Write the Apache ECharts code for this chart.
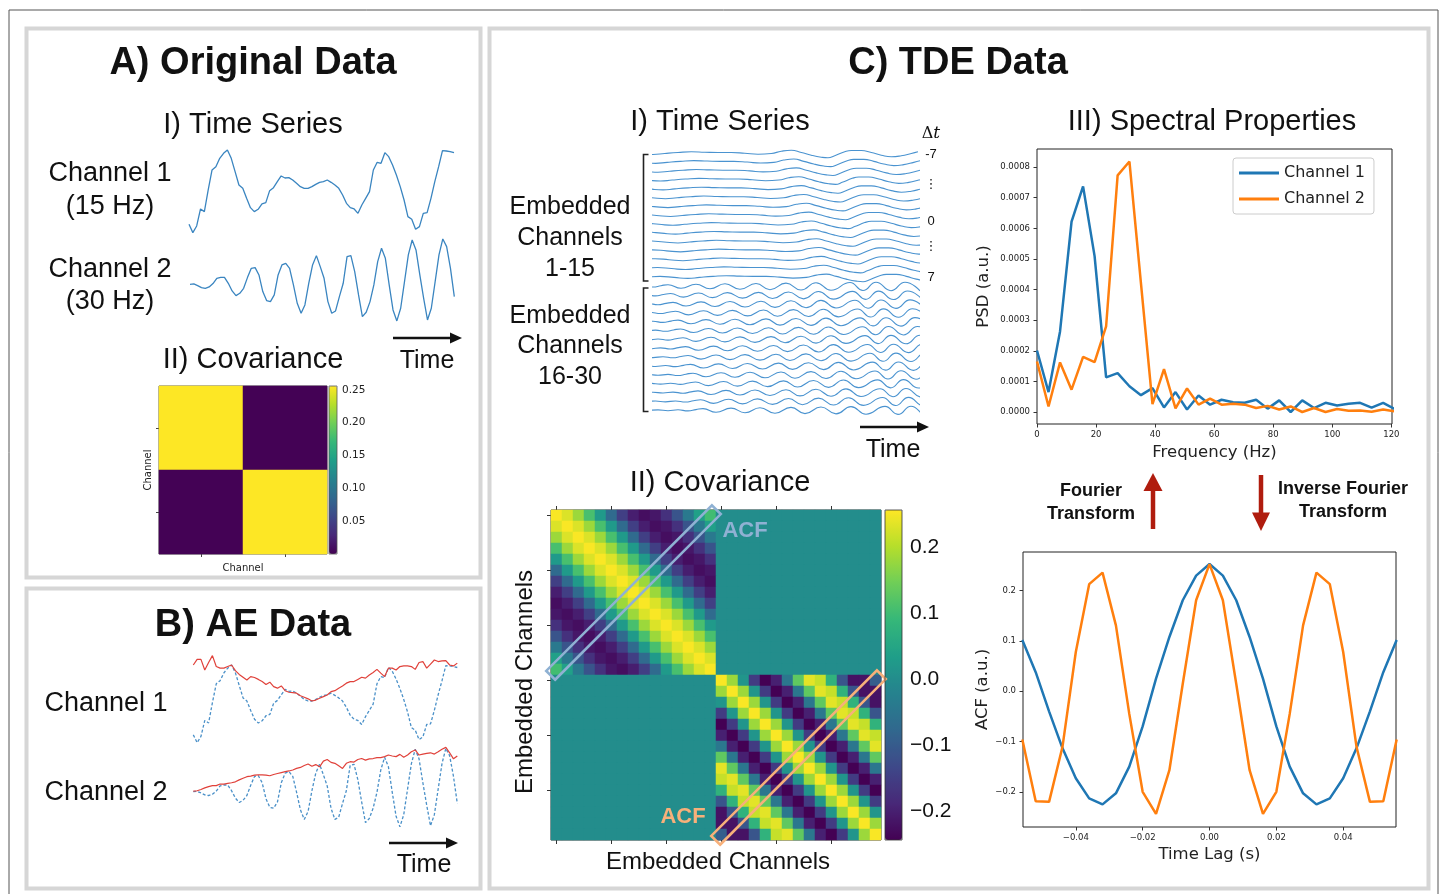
<!DOCTYPE html>
<html>
<head>
<meta charset="utf-8">
<script src="https://cdn.jsdelivr.net/npm/echarts@6/dist/echarts.min.js"></script>
<style>
  html, body { margin: 0; padding: 0; background: #fff; }
  #chart { width: 1447px; height: 894px; }
</style>
</head>
<body>
<div id="chart"></div>
<script>
const SANS = '"Liberation Sans", Arial, Helvetica, sans-serif';
const MPL = '"DejaVu Sans", sans-serif';
const BLUE = '#1f77b4', ORANGE = '#ff7f0e', RED_ARROW = '#b01c0e';
const VIRIDIS = ['#440154', '#482878', '#3e4989', '#31688e', '#26828e', '#1f9e89', '#35b779', '#6ece58', '#b5de2b', '#fde725'];

// A) original time series (70 samples, arbitrary units)
const ch1Signal = [0.27, 0.02, 0.22, 0.73, 0.65, 1.30, 1.90, 2.00, 2.25, 2.40,
  2.50, 2.25, 1.85, 1.45, 1.35, 1.05, 0.77, 0.65, 0.72, 0.88,
  0.92, 1.28, 1.37, 1.55, 1.72, 1.66, 1.67, 1.60, 1.50, 1.40,
  1.35, 1.35, 1.40, 1.47, 1.53, 1.55, 1.60, 1.53, 1.45, 1.35,
  1.15, 0.90, 0.77, 0.73, 0.60, 0.85, 1.05, 1.25, 1.90, 2.13,
  2.10, 2.42, 2.30, 2.05, 1.75, 1.40, 1.00, 0.50, 0.42, 0.12,
  0.20, 0.60, 0.62, 1.05, 1.55, 2.00, 2.48, 2.47, 2.45, 2.42];
const ch2Signal = [0.22, 0.23, 0.18, 0.12, 0.10, 0.14, 0.24, 0.40, 0.43, 0.43,
  0.25, 0.02, -0.12, -0.05, 0.10, 0.42, 0.70, 0.72, 0.50, 0.00,
  -0.27, -0.30, -0.10, 0.50, 0.80, 0.85, 0.70, 0.20, -0.35, -0.65,
  -0.40, 0.25, 0.80, 1.08, 0.75, 0.40, -0.30, -0.65, -0.58, -0.15,
  0.25, 1.05, 1.08, 0.60, -0.10, -0.75, -0.62, -0.30, 0.20, 0.90,
  1.30, 1.00, 0.20, -0.55, -0.88, -0.50, 0.30, 1.10, 1.55, 1.25,
  0.50, -0.20, -0.85, -0.50, 0.30, 1.10, 1.58, 1.35, 0.70, -0.15];

// B) amplitude envelopes
const ch1Envelope = [2.50, 2.68, 2.68, 2.34, 2.58, 2.80, 2.45, 2.40, 2.40, 2.45,
  2.50, 2.32, 2.20, 2.11, 2.02, 2.13, 2.10, 2.04, 1.97, 1.88,
  1.95, 1.81, 1.76, 1.83, 1.68, 1.63, 1.62, 1.60, 1.52, 1.47,
  1.42, 1.35, 1.38, 1.44, 1.49, 1.54, 1.65, 1.68, 1.76, 1.83,
  1.92, 1.97, 1.97, 2.04, 2.11, 2.08, 2.18, 2.26, 2.36, 2.24,
  2.13, 2.40, 2.40, 2.34, 2.45, 2.47, 2.47, 2.45, 2.36, 2.58,
  2.61, 2.40, 2.53, 2.66, 2.61, 2.63, 2.64, 2.50, 2.47, 2.56];
const ch2Envelope = [0.24, 0.25, 0.29, 0.34, 0.38, 0.41, 0.41, 0.46, 0.46, 0.48,
  0.50, 0.53, 0.59, 0.64, 0.69, 0.71, 0.74, 0.75, 0.75, 0.74,
  0.72, 0.76, 0.79, 0.82, 0.85, 0.87, 0.90, 0.95, 0.98, 1.04,
  1.09, 1.02, 1.07, 1.00, 1.18, 1.23, 1.14, 1.11, 1.03, 0.95,
  1.11, 1.16, 1.15, 1.23, 1.26, 1.21, 1.25, 1.26, 1.29, 1.29,
  1.32, 1.37, 1.34, 1.32, 1.39, 1.30, 1.37, 1.47, 1.53, 1.37,
  1.40, 1.42, 1.44, 1.40, 1.47, 1.55, 1.61, 1.44, 1.25, 1.34];

// C-I) traces used for the time-delay embedded rows: [time, amplitude]
const tdeTrace1 = [[-40, 0.3], [-28, 1.0], [-14, 0.0], [0, -1.0], [11.7, 0], [25, 1.0], [38.3, 1.7],
  [51.7, 1.3], [65, 1.0], [78.3, 1.0], [91.7, 0.3], [105, -0.7], [118.3, 0], [128.3, 2.3],
  [138.3, 3.3], [148.3, 1.0], [158.3, -1.7], [168.3, -3.7], [175, -4.3], [181.7, -2.3],
  [191.7, 1.7], [198.3, 3.0], [208.3, 3.0], [218.3, 1.0], [228.3, -1.7], [238.3, -3.3],
  [248.3, -2.3], [258.3, 0], [265, 1.7]];
const tdeTrace2 = [[-40, 0], [-30, 0.5], [-20, -0.3], [-10, 0.6], [0, -0.5], [8, 0.8], [15, 1.8],
  [28, -1.8], [43, 2.3], [57, -2.3], [72, 2.7], [87, -2.8], [103, 3.0], [117, -3.2],
  [133, 3.4], [148, -3.5], [163, 3.8], [178, -3.8], [197, 4.0], [210, -4.0], [223, 4.2],
  [238, -4.2], [252, 4.3], [267, -4.3]];
const tdeLagLabels = ['-7', '⋮', '0', '⋮', '7'];

// C-III) spectra
const psdFreq = [0, 3.9, 7.8, 11.7, 15.6, 19.5, 23.4, 27.3, 31.3, 35.2, 39.1, 43.0, 46.9, 50.8, 54.7, 58.6,
  62.5, 66.4, 70.3, 74.2, 78.1, 82.0, 85.9, 89.8, 93.8, 97.7, 101.6, 105.5, 109.4, 113.3, 117.2, 121.1];
const psdCh1 = [0.000201, 0.000065, 0.000263, 0.000622, 0.000737, 0.000509, 0.000113, 0.000127,
  0.000084, 0.000055, 0.000078, 0.000015, 0.000065, 0.000008, 0.000054, 0.000024,
  0.000040, 0.000032, 0.000030, 0.000040, 0.000011, 0.000038, 0.000000, 0.000038,
  0.000013, 0.000030, 0.000021, 0.000027, 0.000030, 0.000014, 0.000030, 0.000010];
const psdCh2 = [0.000165, 0.000018, 0.000162, 0.000073, 0.000180, 0.000163, 0.000280, 0.000773,
  0.000818, 0.000420, 0.000026, 0.000140, 0.000012, 0.000077, 0.000024, 0.000044,
  0.000024, 0.000027, 0.000024, 0.000013, 0.000020, 0.000008, 0.000018, 0.000000,
  0.000013, 0.000000, 0.000010, 0.000004, 0.000005, 0.000001, 0.000008, 0.000002];

// autocorrelation for lags 0..14 (symmetric)
const acfLagTime = [0, 0.004, 0.008, 0.012, 0.016, 0.020, 0.024, 0.028, 0.032, 0.036, 0.040, 0.044, 0.048, 0.052, 0.056];
const acfCh1 = [0.253, 0.230, 0.181, 0.108, 0.025, -0.070, -0.150, -0.203, -0.225, -0.213, -0.173, -0.113, -0.040, 0.038, 0.102];
const acfCh2 = [0.253, 0.181, 0.015, -0.157, -0.244, -0.200, -0.045, 0.131, 0.236, 0.213, 0.078, -0.111, -0.220, -0.219, -0.096];

// A-II) covariance of the original two channels
const covOriginal = [[0.256, 0.0005], [0.0005, 0.256]];
const acfBoxes = [[0, 14, 14, 0], [15, 29, 29, 15]];
const acfBoxColors = ['#8fb1d3', '#f7b07a'];

const fmt = (d) => (v) => (v < -1e-12 ? '\u2212' : '') + Math.abs(v).toFixed(d);

const grid = [], xAxis = [], yAxis = [], series = [];
function addGrid(g, xa, ya) {
  grid.push(Object.assign({ outerBoundsMode: 'none', containLabel: false }, g));
  const i = grid.length - 1;
  xAxis.push(Object.assign({ gridIndex: i }, xa));
  yAxis.push(Object.assign({ gridIndex: i }, ya));
  return i;
}
const sampleIdx = ch1Signal.map((_, i) => i);
const hiddenCat = { type: 'category', data: sampleIdx, boundaryGap: false, show: false };
const lineSeries = (gi, data, style, extra) => Object.assign({
  type: 'line', xAxisIndex: gi, yAxisIndex: gi, data: data, showSymbol: false,
  clip: false, silent: true, lineStyle: style
}, extra || {});

// A-I
const gA1 = addGrid({ left: 189, top: 150, width: 265, height: 83.3 }, hiddenCat, { type: 'value', min: 0, max: 2.5, show: false });
series.push(lineSeries(gA1, ch1Signal, { color: '#3a85c0', width: 1.3 }));
const gA2 = addGrid({ left: 190, top: 238.3, width: 264.3, height: 83.3 }, hiddenCat, { type: 'value', min: -0.9, max: 1.6, show: false });
series.push(lineSeries(gA2, ch2Signal, { color: '#3a85c0', width: 1.3 }));

// A-II small covariance
const chanCats = ['1', '2'];
const smallTick = { show: true, alignWithLabel: true, length: 3, lineStyle: { color: '#444' } };
const gAcov = addGrid({ left: 159, top: 386, width: 168, height: 168, show: true, borderColor: '#555', borderWidth: 1 },
  { type: 'category', data: chanCats, axisLine: { show: false, onZero: false }, axisTick: smallTick, axisLabel: { show: false },
    name: 'Channel', nameLocation: 'middle', nameGap: 9, nameTextStyle: { fontFamily: MPL, fontSize: 10, color: '#222' } },
  { type: 'category', data: chanCats, inverse: true, axisLine: { show: false, onZero: false }, axisTick: smallTick, axisLabel: { show: false },
    name: 'Channel', nameLocation: 'middle', nameGap: 6, nameRotate: 90, nameTextStyle: { fontFamily: MPL, fontSize: 10, color: '#222' } });
const covSmallData = [];
covOriginal.forEach((row, i) => row.forEach((v, j) => covSmallData.push([j, i, v])));
const sAcov = series.length;
series.push({ type: 'heatmap', xAxisIndex: gAcov, yAxisIndex: gAcov, data: covSmallData, silent: true });
const gAbar = addGrid({ left: 329, top: 386, width: 8, height: 168, show: true, borderColor: '#555', borderWidth: 0.8, z: 10 },
  { type: 'value', show: false, min: 0, max: 1 },
  { type: 'value', position: 'right', min: 0, max: 0.256, splitLine: { show: false }, axisLine: { show: false },
    axisTick: { show: true, length: 3, customValues: [0.05, 0.1, 0.15, 0.2, 0.25], lineStyle: { color: '#444' } },
    axisLabel: { customValues: [0.05, 0.1, 0.15, 0.2, 0.25], formatter: fmt(2), fontFamily: MPL, fontSize: 10.5, color: '#222', margin: 5 } });
series.push({ type: 'line', xAxisIndex: gAbar, yAxisIndex: gAbar, data: [] });

// B
const gB1 = addGrid({ left: 193.3, top: 665, width: 264, height: 78.3 }, hiddenCat, { type: 'value', min: 0, max: 2.5, show: false });
series.push(lineSeries(gB1, ch1Signal, { color: '#4a90c8', width: 1.3, type: [3, 2] }));
series.push(lineSeries(gB1, ch1Envelope, { color: '#e0413a', width: 1.2 }));
const gB2 = addGrid({ left: 193.3, top: 744.5, width: 264, height: 82.9 }, hiddenCat, { type: 'value', min: -0.9, max: 1.7, show: false });
series.push(lineSeries(gB2, ch2Signal, { color: '#4a90c8', width: 1.3, type: [3, 2] }));
series.push(lineSeries(gB2, ch2Envelope, { color: '#e0413a', width: 1.2 }));

// C-I time-delay embedded rows
const TDE_TOP = [153.5, 286.5], TDE_GAP = 8.85, TDE_SHIFT = 2.5, TDE_W = 265;
[tdeTrace1, tdeTrace2].forEach((trace, g) => {
  for (let k = 0; k < 15; k++) {
    const gi = addGrid({ left: 653, width: TDE_W, top: TDE_TOP[g] + k * TDE_GAP - 6, height: 12 },
      { type: 'value', min: -k * TDE_SHIFT, max: TDE_W - k * TDE_SHIFT, show: false },
      { type: 'value', min: -6, max: 6, show: false });
    series.push({ type: 'line', xAxisIndex: gi, yAxisIndex: gi, data: trace, smooth: 0.5, showSymbol: false,
      clip: true, silent: true, lineStyle: { color: '#4a93d0', width: 1.1 } });
  }
});

// C-II covariance of embedded channels
const embCats = Array.from({ length: 30 }, (_, i) => String(i));
const covEmbData = [];
for (let i = 0; i < 30; i++) {
  for (let j = 0; j < 30; j++) {
    let v = 0;
    if (i < 15 && j < 15) v = acfCh1[Math.abs(i - j)];
    else if (i >= 15 && j >= 15) v = acfCh2[Math.abs(i - j)];
    covEmbData.push([j, i, v]);
  }
}
const embTick = { show: true, alignWithLabel: true, interval: 4, length: 4, lineStyle: { color: '#333' } };
const gC = addGrid({ left: 551, top: 510, width: 330, height: 330, show: true, borderColor: '#333', borderWidth: 1 },
  { type: 'category', data: embCats, axisLine: { show: false, onZero: false }, axisTick: embTick, axisLabel: { show: false } },
  { type: 'category', data: embCats, inverse: true, axisLine: { show: false, onZero: false }, axisTick: embTick, axisLabel: { show: false } });
const sCcov = series.length;
series.push({ type: 'heatmap', xAxisIndex: gC, yAxisIndex: gC, data: covEmbData, silent: true, itemStyle: { borderWidth: 0 } });
series.push({
  type: 'custom', xAxisIndex: gC, yAxisIndex: gC, data: acfBoxes, clip: false, silent: true, z: 5,
  encode: { x: [0, 2], y: [1, 3] },
  renderItem: (params, api) => {
    const a = api.coord([api.value(0), api.value(1)]);
    const b = api.coord([api.value(2), api.value(3)]);
    const cell = api.size([1, 1])[0];
    const len = Math.hypot(b[0] - a[0], b[1] - a[1]);
    const d = [(b[0] - a[0]) / len, (b[1] - a[1]) / len];
    const n = [-d[1], d[0]];
    const ext = 0.75 * cell, hw = 0.57 * cell;
    const e0 = [a[0] - d[0] * ext, a[1] - d[1] * ext];
    const e1 = [b[0] + d[0] * ext, b[1] + d[1] * ext];
    return {
      type: 'polygon',
      shape: { points: [
        [e0[0] + n[0] * hw, e0[1] + n[1] * hw], [e1[0] + n[0] * hw, e1[1] + n[1] * hw],
        [e1[0] - n[0] * hw, e1[1] - n[1] * hw], [e0[0] - n[0] * hw, e0[1] - n[1] * hw]] },
      style: { fill: 'none', stroke: acfBoxColors[params.dataIndex], lineWidth: 2.6 }
    };
  }
});
const gCbar = addGrid({ left: 885, top: 510, width: 17, height: 330, show: true, borderColor: '#333', borderWidth: 0.8, z: 10 },
  { type: 'value', show: false, min: 0, max: 1 },
  { type: 'value', position: 'right', min: -0.244, max: 0.256, splitLine: { show: false }, axisLine: { show: false },
    axisTick: { show: true, length: 4, customValues: [-0.2, -0.1, 0, 0.1, 0.2], lineStyle: { color: '#333' } },
    axisLabel: { customValues: [-0.2, -0.1, 0, 0.1, 0.2], formatter: fmt(1), fontFamily: SANS, fontSize: 21, color: '#111', margin: 8 } });
series.push({ type: 'line', xAxisIndex: gCbar, yAxisIndex: gCbar, data: [] });

// C-III PSD and ACF
const tickMpl = { show: true, length: 3.5, lineStyle: { color: '#333' } };
const labelMpl = { fontFamily: MPL, fontSize: 8.5, color: '#222' };
const nameMpl = { fontFamily: MPL, fontSize: 16.5, color: '#222' };
const axisOff = { show: false, onZero: false };
const gPsd = addGrid({ left: 1037, top: 149, width: 355, height: 275, show: true, borderColor: '#222', borderWidth: 1 },
  { type: 'value', min: 0, max: 120.2, splitLine: { show: false }, axisLine: axisOff,
    axisTick: Object.assign({ customValues: [0, 20, 40, 60, 80, 100, 120] }, tickMpl),
    axisLabel: Object.assign({ customValues: [0, 20, 40, 60, 80, 100, 120], margin: 6 }, labelMpl),
    name: 'Frequency (Hz)', nameLocation: 'middle', nameGap: 20, nameTextStyle: nameMpl },
  { type: 'value', min: -0.0000392, max: 0.000859, splitLine: { show: false }, axisLine: axisOff,
    axisTick: Object.assign({ customValues: [0, 0.0001, 0.0002, 0.0003, 0.0004, 0.0005, 0.0006, 0.0007, 0.0008] }, tickMpl),
    axisLabel: Object.assign({ customValues: [0, 0.0001, 0.0002, 0.0003, 0.0004, 0.0005, 0.0006, 0.0007, 0.0008], formatter: fmt(4), margin: 7 }, labelMpl),
    name: 'PSD (a.u.)', nameLocation: 'middle', nameRotate: 90, nameGap: 45, nameTextStyle: nameMpl });
series.push({ type: 'line', name: 'Channel 1', xAxisIndex: gPsd, yAxisIndex: gPsd, data: psdFreq.map((f, i) => [f, psdCh1[i]]),
  showSymbol: false, silent: true, color: BLUE, lineStyle: { color: BLUE, width: 2.5 } });
series.push({ type: 'line', name: 'Channel 2', xAxisIndex: gPsd, yAxisIndex: gPsd, data: psdFreq.map((f, i) => [f, psdCh2[i]]),
  showSymbol: false, silent: true, color: ORANGE, lineStyle: { color: ORANGE, width: 2.5 } });

const acfPoints = (acf) => {
  const pts = [];
  for (let k = acfLagTime.length - 1; k > 0; k--) pts.push([-acfLagTime[k], acf[k]]);
  acfLagTime.forEach((t, k) => pts.push([t, acf[k]]));
  return pts;
};
const gAcf = addGrid({ left: 1023, top: 552, width: 373, height: 275, show: true, borderColor: '#222', borderWidth: 1 },
  { type: 'value', min: -0.0558, max: 0.0558, splitLine: { show: false }, axisLine: axisOff,
    axisTick: Object.assign({ customValues: [-0.04, -0.02, 0, 0.02, 0.04] }, tickMpl),
    axisLabel: Object.assign({ customValues: [-0.04, -0.02, 0, 0.02, 0.04], formatter: fmt(2), margin: 6 }, labelMpl),
    name: 'Time Lag (s)', nameLocation: 'middle', nameGap: 19, nameTextStyle: nameMpl },
  { type: 'value', min: -0.27, max: 0.277, splitLine: { show: false }, axisLine: axisOff,
    axisTick: Object.assign({ customValues: [-0.2, -0.1, 0, 0.1, 0.2] }, tickMpl),
    axisLabel: Object.assign({ customValues: [-0.2, -0.1, 0, 0.1, 0.2], formatter: fmt(1), margin: 7 }, labelMpl),
    name: 'ACF (a.u.)', nameLocation: 'middle', nameRotate: 90, nameGap: 31, nameTextStyle: nameMpl });
series.push({ type: 'line', name: 'Channel 1', xAxisIndex: gAcf, yAxisIndex: gAcf, data: acfPoints(acfCh1),
  showSymbol: false, silent: true, color: BLUE, lineStyle: { color: BLUE, width: 2.5 } });
series.push({ type: 'line', name: 'Channel 2', xAxisIndex: gAcf, yAxisIndex: gAcf, data: acfPoints(acfCh2),
  showSymbol: false, silent: true, color: ORANGE, lineStyle: { color: ORANGE, width: 2.5 } });

// extra top ticks on the embedded covariance
xAxis.push({ gridIndex: gC, position: 'top', type: 'category', data: embCats, axisLine: { show: false, onZero: false },
  axisTick: embTick, axisLabel: { show: false } });

// decorations: panels, titles, labels, arrows
const txt = (x, y, text, size, extra) => ({
  type: 'text', x: x, y: y + 2, z: 50,
  style: Object.assign({ text: text, fontSize: size, fontFamily: SANS, fill: '#111', align: 'center', verticalAlign: 'middle' }, extra || {})
});
const panel = (x, y, w, h) => ({ type: 'rect', z: 1, shape: { x: x, y: y, width: w, height: h },
  style: { fill: 'none', stroke: '#d6d6d6', lineWidth: 4 } });
const timeArrow = (x1, x2, y) => [
  { type: 'line', z: 50, shape: { x1: x1, y1: y, x2: x2 - 8, y2: y }, style: { stroke: '#111', lineWidth: 2.5 } },
  { type: 'polygon', z: 50, shape: { points: [[x2 - 12, y - 5.5], [x2, y], [x2 - 12, y + 5.5]] }, style: { fill: '#111' } }
];
const bracket = (x, y1, y2) => ({ type: 'polyline', z: 50,
  shape: { points: [[x + 5, y1], [x, y1], [x, y2], [x + 5, y2]] }, style: { stroke: '#222', lineWidth: 1.6, fill: 'none' } });
const lagY = [154, 185, 221, 247, 277];

const graphic = [
  { type: 'rect', z: 0, shape: { x: 9, y: 10, width: 1429, height: 900 }, style: { fill: 'none', stroke: '#555', lineWidth: 1 } },
  panel(26.5, 28.5, 454, 549), panel(26.5, 588.5, 454, 300), panel(489.5, 28.5, 939, 860),
  txt(253, 62, 'A) Original Data', 38, { fontWeight: 'bold' }),
  txt(958, 62, 'C) TDE Data', 38, { fontWeight: 'bold' }),
  txt(253, 624, 'B) AE Data', 38, { fontWeight: 'bold' }),
  txt(253, 123, 'I) Time Series', 29),
  txt(110, 172, 'Channel 1', 27), txt(110, 205, '(15 Hz)', 27),
  txt(110, 268, 'Channel 2', 27), txt(110, 300, '(30 Hz)', 27),
  txt(253, 358, 'II) Covariance', 29),
  txt(427, 359, 'Time', 25),
  txt(106, 702, 'Channel 1', 27), txt(106, 791, 'Channel 2', 27),
  txt(424, 863, 'Time', 25),
  txt(720, 120, 'I) Time Series', 29),
  txt(1212, 120, 'III) Spectral Properties', 29),
  txt(720, 481, 'II) Covariance', 29),
  txt(570, 205, 'Embedded', 25), txt(570, 236, 'Channels', 25), txt(570, 267, '1-15', 25),
  txt(570, 314, 'Embedded', 25), txt(570, 344, 'Channels', 25), txt(570, 375, '16-30', 25),
  txt(893, 448, 'Time', 25),
  txt(931, 132, '{d|\u0394}{t|t}', 18, { rich: { d: { fontFamily: '"DejaVu Serif", serif', fontSize: 16, fill: '#111' },
    t: { fontFamily: '"DejaVu Serif", serif', fontStyle: 'italic', fontSize: 17, fill: '#111' } } }),
  txt(718, 860, 'Embedded Channels', 24),
  Object.assign(txt(525, 680, 'Embedded Channels', 24), { rotation: Math.PI / 2 }),
  txt(745, 529, 'ACF', 22, { fontWeight: 'bold', fill: acfBoxColors[0] }),
  txt(683, 815, 'ACF', 22, { fontWeight: 'bold', fill: acfBoxColors[1] }),
  txt(1091, 489, 'Fourier', 18, { fontWeight: 'bold' }), txt(1091, 512, 'Transform', 18, { fontWeight: 'bold' }),
  txt(1343, 487, 'Inverse Fourier', 18, { fontWeight: 'bold' }), txt(1343, 510, 'Transform', 18, { fontWeight: 'bold' }),
  { type: 'line', z: 50, shape: { x1: 1153, y1: 529, x2: 1153, y2: 488 }, style: { stroke: RED_ARROW, lineWidth: 4.5 } },
  { type: 'polygon', z: 50, shape: { points: [[1143.5, 491], [1153, 473], [1162.5, 491]] }, style: { fill: RED_ARROW } },
  { type: 'line', z: 50, shape: { x1: 1261, y1: 475, x2: 1261, y2: 515 }, style: { stroke: RED_ARROW, lineWidth: 4.5 } },
  { type: 'polygon', z: 50, shape: { points: [[1252, 512.5], [1261, 531], [1270, 512.5]] }, style: { fill: RED_ARROW } },
  bracket(643.5, 154.5, 281), bracket(643.5, 288, 411.5)
].concat(timeArrow(393, 462, 338), timeArrow(389, 458, 843), timeArrow(860, 929, 427));
tdeLagLabels.forEach((s, i) => graphic.push(txt(931, lagY[i] - 2, s, 13, { fontFamily: i % 2 ? MPL : SANS })));

const chart = echarts.init(document.getElementById('chart'));
chart.setOption({
  animation: false,
  backgroundColor: '#fff',
  grid: grid,
  xAxis: xAxis,
  yAxis: yAxis,
  visualMap: [
    { type: 'continuous', seriesIndex: sAcov, min: 0, max: 0.256, left: 329, top: 386, itemWidth: 8, itemHeight: 168,
      padding: 0, calculable: false, hoverLink: false, inRange: { color: VIRIDIS } },
    { type: 'continuous', seriesIndex: sCcov, min: -0.244, max: 0.256, left: 885, top: 510, itemWidth: 17, itemHeight: 330,
      padding: 0, calculable: false, hoverLink: false, inRange: { color: VIRIDIS } }
  ],
  legend: {
    data: ['Channel 1', 'Channel 2'], orient: 'vertical', left: 1233, top: 158, icon: 'rect',
    itemWidth: 40, itemHeight: 3, itemGap: 10, padding: [7, 9, 7, 6],
    backgroundColor: '#fff', borderColor: '#ccc', borderWidth: 1, borderRadius: 3,
    selectedMode: false, textStyle: { fontFamily: MPL, fontSize: 16, color: '#222' }
  },
  graphic: graphic,
  series: series
});
window.addEventListener('resize', () => chart.resize());
</script>
</body>
</html>
